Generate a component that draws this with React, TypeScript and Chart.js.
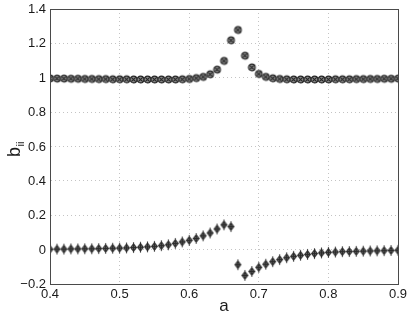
import React, { useEffect, useRef } from "react";
import { Chart, registerables } from "chart.js";

Chart.register(...registerables);

const aValues = [
  0.40, 0.41, 0.42, 0.43, 0.44, 0.45, 0.46, 0.47, 0.48, 0.49,
  0.50, 0.51, 0.52, 0.53, 0.54, 0.55, 0.56, 0.57, 0.58, 0.59,
  0.60, 0.61, 0.62, 0.63, 0.64, 0.65, 0.66, 0.67, 0.68, 0.69,
  0.70, 0.71, 0.72, 0.73, 0.74, 0.75, 0.76, 0.77, 0.78, 0.79,
  0.80, 0.81, 0.82, 0.83, 0.84, 0.85, 0.86, 0.87, 0.88, 0.89, 0.90,
];

const upperSeries = [
  0.996, 0.995, 0.995, 0.994, 0.994, 0.993, 0.993, 0.992, 0.992, 0.991,
  0.991, 0.991, 0.990, 0.990, 0.990, 0.990, 0.990, 0.990, 0.990, 0.991,
  0.993, 0.998, 1.005, 1.020, 1.047, 1.098, 1.218, 1.278, 1.128, 1.060,
  1.022, 1.005, 0.997, 0.993, 0.991, 0.990, 0.990, 0.990, 0.990, 0.990,
  0.990, 0.991, 0.991, 0.991, 0.992, 0.992, 0.993, 0.993, 0.994, 0.994, 0.995,
];

const lowerSeries = [
  0.002, 0.003, 0.003, 0.004, 0.004, 0.005, 0.005, 0.006, 0.007, 0.008,
  0.009, 0.010, 0.012, 0.014, 0.016, 0.019, 0.023, 0.028, 0.036, 0.045,
  0.054, 0.065, 0.080, 0.097, 0.120, 0.144, 0.134, -0.088, -0.150, -0.127,
  -0.103, -0.085, -0.070, -0.058, -0.047, -0.039, -0.033, -0.028, -0.023, -0.019,
  -0.016, -0.014, -0.012, -0.011, -0.010, -0.009, -0.008, -0.007, -0.006, -0.005, -0.004,
];

const xTicks = [0.4, 0.5, 0.6, 0.7, 0.8, 0.9];
const yTicks = [-0.2, 0, 0.2, 0.4, 0.6, 0.8, 1, 1.2, 1.4];
const xTitle = "a";
const yTitleMain = "b";
const yTitleSub = "ii";

const FONT = "'Liberation Sans', Arial, Helvetica, sans-serif";

function fmtX(v: number): string {
  return v.toFixed(1);
}
function fmtY(v: number): string {
  if (Math.abs(v) < 1e-9) return "0";
  if (Math.abs(v - 1) < 1e-9) return "1";
  return v < 0 ? "\u2212" + Math.abs(v).toFixed(1) : v.toFixed(1);
}

function makeCircleX(): HTMLCanvasElement {
  const c = document.createElement("canvas");
  c.width = 11;
  c.height = 11;
  const g = c.getContext("2d")!;
  g.fillStyle = "#8a8a8a";
  g.strokeStyle = "#262626";
  g.lineWidth = 1.1;
  g.beginPath();
  g.arc(5.5, 5.5, 3.4, 0, Math.PI * 2);
  g.fill();
  g.stroke();
  g.beginPath();
  g.moveTo(3.3, 3.3);
  g.lineTo(7.7, 7.7);
  g.moveTo(7.7, 3.3);
  g.lineTo(3.3, 7.7);
  g.stroke();
  return c;
}

function makeDiamondPlus(): HTMLCanvasElement {
  const c = document.createElement("canvas");
  c.width = 11;
  c.height = 13;
  const g = c.getContext("2d")!;
  g.strokeStyle = "#2a2a2a";
  g.fillStyle = "#6a6a6a";
  g.lineWidth = 1.1;
  g.beginPath();
  g.moveTo(5.5, 2.8);
  g.lineTo(8.4, 6.5);
  g.lineTo(5.5, 10.2);
  g.lineTo(2.6, 6.5);
  g.closePath();
  g.fill();
  g.stroke();
  g.beginPath();
  g.moveTo(5.5, 1.2);
  g.lineTo(5.5, 11.8);
  g.moveTo(3, 6.5);
  g.lineTo(8, 6.5);
  g.stroke();
  return c;
}

const framePlugin = {
  id: "frameAndTitles",
  afterDraw(chart: any) {
    const { ctx, chartArea } = chart;
    const xs = chart.scales.x;
    const ys = chart.scales.y;
    ctx.save();
    ctx.strokeStyle = "#4a4a4a";
    ctx.lineWidth = 1;
    ctx.setLineDash([]);
    ctx.strokeRect(
      Math.round(chartArea.left) + 0.5,
      Math.round(chartArea.top) + 0.5,
      Math.round(chartArea.right - chartArea.left),
      Math.round(chartArea.bottom - chartArea.top)
    );
    ctx.fillStyle = "#1a1a1a";
    ctx.font = `13px ${FONT}`;
    // x tick labels
    ctx.textAlign = "center";
    ctx.textBaseline = "middle";
    for (const t of xs.ticks) {
      const px = xs.getPixelForValue(t.value);
      ctx.fillText(fmtX(t.value), px, chartArea.bottom + 10);
    }
    // y tick labels
    ctx.textAlign = "right";
    for (const t of ys.ticks) {
      const py = ys.getPixelForValue(t.value);
      ctx.fillText(fmtY(t.value), chartArea.left - 4, py + 0.5);
    }
    // x title
    const cx = (chartArea.left + chartArea.right) / 2;
    ctx.font = `17px ${FONT}`;
    ctx.textAlign = "center";
    ctx.textBaseline = "alphabetic";
    ctx.fillText(xTitle, cx, 311);
    // y title with subscript
    ctx.save();
    ctx.translate(20, 157);
    ctx.rotate(-Math.PI / 2);
    ctx.font = `18px ${FONT}`;
    ctx.textAlign = "left";
    ctx.textBaseline = "alphabetic";
    ctx.fillText(yTitleMain, 0, 0);
    const w = ctx.measureText(yTitleMain).width;
    ctx.font = `11px ${FONT}`;
    ctx.fillText(yTitleSub, w + 0.5, 4);
    ctx.restore();
    ctx.restore();
  },
};

export default function App() {
  const ref = useRef<HTMLCanvasElement | null>(null);

  useEffect(() => {
    document.body.style.margin = "0";
    const canvas = ref.current;
    if (!canvas) return;
    const circleX = makeCircleX();
    const diamond = makeDiamondPlus();

    const gridOpts = {
      color: "#c4c4c4",
      lineWidth: 1,
      drawTicks: false,
    };

    const chart = new Chart(canvas, {
      type: "scatter",
      data: {
        datasets: [
          {
            label: "upper",
            data: aValues.map((a, i) => ({ x: a, y: upperSeries[i] })),
            pointStyle: circleX as any,
            showLine: false,
          },
          {
            label: "lower",
            data: aValues.map((a, i) => ({ x: a, y: lowerSeries[i] })),
            pointStyle: diamond as any,
            showLine: false,
          },
        ],
      },
      options: {
        animation: false,
        responsive: true,
        maintainAspectRatio: false,
        layout: { padding: { left: 0, right: 11, top: 9, bottom: 0 } },
        plugins: {
          legend: { display: false },
          tooltip: { enabled: false },
        },
        scales: {
          x: {
            type: "linear",
            min: 0.4,
            max: 0.9,
            afterBuildTicks: (scale: any) => {
              scale.ticks = xTicks.map((v) => ({ value: v }));
            },
            afterFit: (scale: any) => {
              scale.height = 33;
            },
            grid: gridOpts,
            border: { display: true, color: "#4a4a4a", dash: [1, 3] },
            ticks: { display: false },
          },
          y: {
            type: "linear",
            min: -0.2,
            max: 1.4,
            afterBuildTicks: (scale: any) => {
              scale.ticks = yTicks.map((v) => ({ value: v }));
            },
            afterFit: (scale: any) => {
              scale.width = 50;
            },
            grid: gridOpts,
            border: { display: true, color: "#4a4a4a", dash: [1, 3] },
            ticks: { display: false },
          },
        },
      },
      plugins: [framePlugin],
    });
    return () => chart.destroy();
  }, []);

  return (
    <div style={{ width: 409, height: 317, position: "relative" }}>
      <canvas ref={ref} />
    </div>
  );
}
